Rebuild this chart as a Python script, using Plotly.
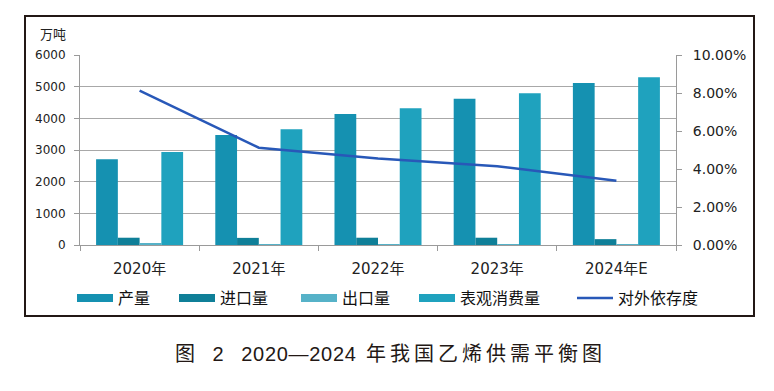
import plotly.graph_objects as go

categories = ["2020年", "2021年", "2022年", "2023年", "2024年E"]
production = [2705, 3470, 4135, 4620, 5115]
imports = [230, 225, 230, 230, 185]
exports = [35, 30, 25, 25, 20]
consumption = [2940, 3655, 4315, 4790, 5295]
dependency = [0.0812, 0.0512, 0.0455, 0.0415, 0.0338]

names = ["产量", "进口量", "出口量", "表观消费量", "对外依存度"]
colors = ["#1591b1", "#0f7f98", "#56b2c8", "#1fa2be", "#2858b8"]

W, H = 774, 391
L, R, T, B = 80, 676, 55, 245
pw, ph = R - L, B - T


def px2x(px):
    return (px - L) / pw


def py2y(py):
    return (B - py) / ph


FONT = "DejaVu Sans, Noto Sans CJK SC"
CJK = "Noto Sans CJK SC, DejaVu Sans"

fig = go.Figure()
bar_series = [production, imports, exports, consumption]
for i, vals in enumerate(bar_series):
    fig.add_trace(go.Bar(x=categories, y=vals, name=names[i], marker_color=colors[i],
                         marker_line_width=0, showlegend=False))

fig.add_trace(go.Scatter(x=categories, y=dependency, name=names[4], yaxis="y2", mode="lines",
                         line=dict(color=colors[4], width=2.5), legend="legend5"))

# legend proxies with wide swatches
legend_ids = ["legend", "legend2", "legend3", "legend4"]
for i in range(4):
    fig.add_trace(go.Scatter(x=[None], y=[None], name=names[i], mode="lines",
                             line=dict(color=colors[i], width=8), legend=legend_ids[i]))

swatch_starts = [77, 179, 301, 419, 577]
leg_common = dict(orientation="h", yanchor="middle", y=py2y(298), xanchor="left",
                  itemwidth=36, bgcolor="rgba(0,0,0,0)",
                  font=dict(family=CJK, size=16, color="#111111"))
layout_legends = {}
for k, sx in enumerate(swatch_starts):
    key = "legend" if k == 0 else f"legend{k+1}"
    layout_legends[key] = dict(x=px2x(sx - 5), **leg_common)

fig.update_layout(
    width=W, height=H,
    margin=dict(l=L, r=W - R, t=T, b=H - B),
    paper_bgcolor="white", plot_bgcolor="white",
    barmode="group", bargap=0.27, bargroupgap=0,
    xaxis=dict(type="category", showline=True, linecolor="#9a9a9a", linewidth=1,
               ticks="outside", tickson="boundaries", ticklen=5, tickcolor="#9a9a9a",
               ticklabelstandoff=10,
               tickfont=dict(family=FONT, size=15, color="#222222"), showgrid=False),
    yaxis=dict(range=[0, 6000], dtick=1000, showgrid=True, gridcolor="#a8a8a8", gridwidth=1,
               showline=True, linecolor="#9a9a9a", ticks="outside", ticklen=5, tickcolor="#9a9a9a",
               ticklabelstandoff=6,
               tickfont=dict(family=FONT, size=12, color="#222222"), zeroline=False),
    yaxis2=dict(range=[0, 0.1], dtick=0.02, tickformat=".2%", overlaying="y", side="right",
                showgrid=False, showline=True, linecolor="#9a9a9a", ticks="outside", ticklen=5,
                tickcolor="#9a9a9a", ticklabelstandoff=8,
                tickfont=dict(family=FONT, size=14, color="#222222"),
                zeroline=False),
    **layout_legends,
)

fig.add_shape(type="rect", xref="paper", yref="paper",
              x0=px2x(25), x1=px2x(754), y0=py2y(316), y1=py2y(16),
              line=dict(color="#231815", width=2), layer="below")

fig.add_annotation(text="万吨", xref="paper", yref="paper", x=px2x(53), y=py2y(33),
                   xanchor="center", yanchor="middle",
                   showarrow=False, font=dict(family=CJK, size=13, color="#222222"))

caption = ('<span style="letter-spacing:6px">图 2 </span>'
           '<span style="letter-spacing:0.7px">2020—2024</span>'
           '<span style="letter-spacing:4px"> 年我国乙烯供需平衡图</span>')
fig.add_annotation(text=caption,
                   xref="paper", yref="paper", x=px2x(390), y=py2y(354), showarrow=False,
                   xanchor="center", yanchor="middle",
                   font=dict(family="Liberation Sans, Noto Sans CJK SC", size=20, color="#231815"))

fig.write_html("out.html", config={"displayModeBar": False},
               post_script="document.body.style.margin='0';")
